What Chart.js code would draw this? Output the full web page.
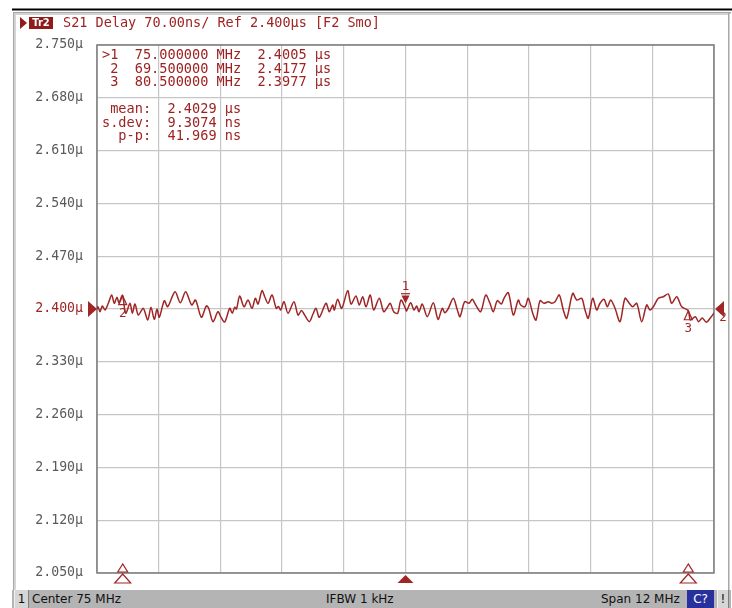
<!DOCTYPE html>
<html>
<head>
<meta charset="utf-8">
<script src="https://cdn.jsdelivr.net/npm/chart.js@4.4.1/dist/chart.umd.min.js"></script>
<style>
  html, body { margin: 0; padding: 0; background: #fff; }
  #wrap { position: relative; width: 732px; height: 608px; overflow: hidden; background: #fff; }
  #chart { position: absolute; left: 0; top: 0; }
  .mono { position: absolute; font-family: "DejaVu Sans Mono", monospace; color: #9e2222; white-space: pre; }
  #hdr { left: 63px; top: 14px; font-size: 13.5px; line-height: 16px; }
  #tr { position: absolute; left: 29px; top: 17px; width: 24px; height: 12px; background: #8e1c1c;
        color: #fff; font: bold 10px "DejaVu Sans", sans-serif; line-height: 12px; text-align: center; }
  #arrow { position: absolute; left: 20px; top: 17px; width: 0; height: 0;
           border-top: 6px solid transparent; border-bottom: 6px solid transparent; border-left: 7px solid #8e1c1c; }
  #mkr { left: 102px; top: 48px; font-size: 13.6px; line-height: 13.5px; }
  #stat { left: 102px; top: 102px; font-size: 13.6px; line-height: 13.7px; }
  #bar { position: absolute; left: 12px; top: 590px; width: 719px; height: 18px; background: #b4b4b4;
         font: 12px "DejaVu Sans", sans-serif; color: #111; }
  #bar span { position: absolute; top: 0; line-height: 18px; }
  .box { background: #d6d6d6; border-left: 1px solid #f0f0f0; border-right: 1px solid #808080; text-align: center; }
</style>
</head>
<body>
<div id="wrap">
  <canvas id="chart" width="732" height="608"></canvas>
  <div id="arrow"></div>
  <div id="tr">Tr2</div>
  <div id="hdr" class="mono"></div>
  <div id="mkr" class="mono"></div>
  <div id="stat" class="mono"></div>
  <div id="bar">
    <span class="box" style="left:2px;width:13px;">1</span>
    <span style="left:20px;">Center 75 MHz</span>
    <span style="left:314px;">IFBW 1 kHz</span>
    <span style="left:589px;">Span 12 MHz</span>
    <span style="left:675px;width:27px;background:#28309e;color:#fff;text-align:center;">C?</span>
    <span class="box" style="left:705px;width:10px;">!</span>
  </div>
</div>
<script>
// S21 group delay trace
const freqMHz = [
  69.000, 69.019, 69.058, 69.103, 69.156, 69.220, 69.286, 69.336, 69.389, 69.428,
  69.495, 69.558, 69.642, 69.687, 69.739, 69.803, 69.900, 69.986, 70.050, 70.114,
  70.167, 70.212, 70.309, 70.375, 70.517, 70.620, 70.725, 70.842, 70.916, 71.029,
  71.126, 71.172, 71.256, 71.353, 71.406, 71.484, 71.581, 71.631, 71.678, 71.713,
  71.775, 71.859, 71.937, 72.015, 72.079, 72.132, 72.209, 72.262, 72.326, 72.404,
  72.487, 72.530, 72.573, 72.637, 72.715, 72.831, 72.909, 72.977, 73.026, 73.129,
  73.201, 73.259, 73.324, 73.454, 73.518, 73.584, 73.615, 73.681, 73.759, 73.876,
  73.940, 74.037, 74.101, 74.168, 74.232, 74.315, 74.381, 74.490, 74.576, 74.654,
  74.704, 74.770, 74.848, 74.912, 75.000, 75.019, 75.101, 75.165, 75.218, 75.263,
  75.327, 75.424, 75.541, 75.632, 75.716, 75.763, 75.827, 75.930, 76.008, 76.060,
  76.151, 76.235, 76.299, 76.366, 76.463, 76.560, 76.643, 76.708, 76.785, 76.863,
  76.916, 76.999, 77.097, 77.194, 77.240, 77.324, 77.388, 77.474, 77.538, 77.616,
  77.694, 77.777, 77.843, 77.908, 77.991, 78.069, 78.135, 78.252, 78.330, 78.427,
  78.491, 78.555, 78.641, 78.719, 78.783, 78.861, 78.925, 78.991, 79.075, 79.172,
  79.269, 79.353, 79.419, 79.497, 79.594, 79.691, 79.755, 79.820, 79.917, 80.014,
  80.111, 80.177, 80.275, 80.372, 80.500, 80.539, 80.636, 80.700, 80.772, 80.850,
  80.928, 81.000
];
const delayUs = [
  2.3996, 2.4030, 2.3964, 2.4040, 2.3987, 2.4076, 2.4186, 2.4076, 2.4155, 2.4084,
  2.4180, 2.3943, 2.4076, 2.3943, 2.4066, 2.3920, 2.4009, 2.3854, 2.4023, 2.3863,
  2.3996, 2.3890, 2.4110, 2.4030, 2.4229, 2.4084, 2.4229, 2.4053, 2.4119, 2.3890,
  2.4040, 2.4009, 2.3832, 2.3964, 2.3898, 2.3828, 2.4009, 2.3943, 2.4023, 2.4000,
  2.4172, 2.4030, 2.4119, 2.4009, 2.4142, 2.4066, 2.4243, 2.4163, 2.4076, 2.4186,
  2.4009, 2.4033, 2.3987, 2.4097, 2.3943, 2.4097, 2.3920, 2.3980, 2.3934, 2.3832,
  2.3934, 2.4009, 2.3890, 2.4076, 2.3964, 2.4053, 2.3987, 2.4129, 2.4009, 2.4243,
  2.4066, 2.4172, 2.4053, 2.4163, 2.4030, 2.4186, 2.3987, 2.4142, 2.3964, 2.4030,
  2.4076, 2.3964, 2.3943, 2.4119, 2.4005, 2.3973, 2.4084, 2.3987, 2.4040, 2.3964,
  2.4066, 2.3898, 2.4084, 2.3863, 2.4009, 2.3951, 2.4000, 2.4142, 2.3987, 2.3898,
  2.4097, 2.4076, 2.4129, 2.4053, 2.3964, 2.4186, 2.4076, 2.3964, 2.4110, 2.4066,
  2.4142, 2.4216, 2.3920, 2.4119, 2.4053, 2.4030, 2.4142, 2.3943, 2.3854, 2.4110,
  2.4076, 2.4097, 2.4076, 2.4097, 2.4186, 2.3987, 2.3877, 2.4208, 2.4119, 2.4142,
  2.3987, 2.3877, 2.4142, 2.3987, 2.4076, 2.4129, 2.4030, 2.4119, 2.4009, 2.3832,
  2.4142, 2.4076, 2.4030, 2.4076, 2.3832, 2.4053, 2.3987, 2.4030, 2.4142, 2.4163,
  2.4199, 2.4076, 2.4163, 2.4030, 2.3977, 2.3854, 2.3898, 2.3832, 2.3881, 2.3825,
  2.3881, 2.3947
];

// markers
const markerNames = ['1', '2', '3'];
const markerFreq = [75.0, 69.5, 80.5];
const markerDelay = [2.4005, 2.4177, 2.3977];
const activeMarker = 0;

// axis
const delayTicks = [2.05, 2.12, 2.19, 2.26, 2.33, 2.40, 2.47, 2.54, 2.61, 2.68, 2.75];
const refLevel = 2.400;
const centerMHz = 75;
const spanMHz = 12;

// statistics
const statNames = ['mean:', 's.dev:', 'p-p:'];
const statValues = ['2.4029', '9.3074', '41.969'];
const statUnits = ['μs', 'ns', 'ns'];

const RED = '#a02626';
const GRID = '#c6c6c6';
const FRAME = '#7c7c7c';

document.getElementById('hdr').textContent = 'S21 Delay 70.00ns/ Ref 2.400μs [F2 Smo]';
document.getElementById('mkr').textContent = markerNames.map((n, i) =>
  (i === activeMarker ? '>' : ' ') + n + '  ' + markerFreq[i].toFixed(6).padStart(9) + ' MHz  ' +
  markerDelay[i].toFixed(4) + ' μs').join('\n');
document.getElementById('stat').textContent = statNames.map((n, i) =>
  n.padStart(6) + '  ' + statValues[i] + ' ' + statUnits[i]).join('\n');

function tri(ctx, pts, fill) {
  ctx.beginPath();
  ctx.moveTo(pts[0], pts[1]);
  ctx.lineTo(pts[2], pts[3]);
  ctx.lineTo(pts[4], pts[5]);
  ctx.closePath();
  if (fill) ctx.fill(); else ctx.stroke();
}

// frame around the screen and the plot box
const framePlugin = {
  id: 'frame',
  beforeDraw(chart) {
    const ctx = chart.ctx;
    ctx.save();
    ctx.fillStyle = '#fff';
    ctx.fillRect(0, 0, 732, 608);
    ctx.fillStyle = '#000';
    ctx.fillRect(12, 8.5, 720, 2);
    ctx.fillStyle = '#a8a8a8';
    ctx.fillRect(13, 12, 718, 1.5);
    ctx.fillRect(13, 12, 1.5, 578);
    ctx.fillRect(728, 12, 1.5, 578);
    ctx.fillStyle = '#d4d4d4';
    ctx.fillRect(14.5, 13.5, 713.5, 1.5);
    ctx.fillRect(14.5, 13.5, 1.5, 576);
    ctx.restore();
  },
  beforeDatasetsDraw(chart) {
    const { ctx, chartArea: a } = chart;
    ctx.save();
    ctx.strokeStyle = FRAME;
    ctx.lineWidth = 1.5;
    ctx.strokeRect(a.left, a.top, a.right - a.left, a.bottom - a.top);
    ctx.restore();
  }
};

// marker symbols and reference level arrows
const markerPlugin = {
  id: 'markers',
  afterDatasetsDraw(chart) {
    const { ctx, chartArea: a, scales: { x, y } } = chart;
    ctx.save();
    ctx.fillStyle = RED;
    ctx.strokeStyle = RED;
    ctx.lineWidth = 1.2;
    ctx.font = '12.5px "DejaVu Sans Mono", monospace';
    ctx.textAlign = 'center';
    ctx.textBaseline = 'middle';

    const yr = y.getPixelForValue(refLevel);
    tri(ctx, [a.left - 9, yr - 8, a.left, yr, a.left - 9, yr + 8], true);
    tri(ctx, [a.right + 1, yr, a.right + 10, yr - 8, a.right + 10, yr + 8], true);
    ctx.fillText('2', a.right + 9, yr + 9);

    markerFreq.forEach((f, i) => {
      const px = x.getPixelForValue(f);
      const py = y.getPixelForValue(markerDelay[i]);
      if (i === activeMarker) {
        tri(ctx, [px - 4, py - 13, px + 4, py - 13, px, py - 5], true);
        ctx.fillRect(px - 4.5, py - 15.5, 9, 1.2);
        ctx.fillText(markerNames[i], px, py - 22);
        tri(ctx, [px - 8, a.bottom + 10, px + 8, a.bottom + 10, px, a.bottom + 2], true);
      } else {
        tri(ctx, [px, py, px - 4, py + 9, px + 4, py + 9], false);
        ctx.fillText(markerNames[i], px, py + 18);
        tri(ctx, [px, a.bottom - 9, px - 5, a.bottom - 1, px + 5, a.bottom - 1], false);
        tri(ctx, [px, a.bottom + 1, px - 8, a.bottom + 10, px + 8, a.bottom + 10], false);
      }
    });
    ctx.restore();
  }
};

new Chart(document.getElementById('chart'), {
  type: 'line',
  data: {
    datasets: [{
      data: freqMHz.map((f, i) => ({ x: f, y: delayUs[i] })),
      borderColor: RED,
      borderWidth: 1.5,
      pointRadius: 0,
      tension: 0.3,
      fill: false
    }]
  },
  options: {
    responsive: false,
    animation: false,
    events: [],
    layout: { padding: { top: 45, right: 18, bottom: 35, left: 0 } },
    plugins: {
      legend: { display: false },
      tooltip: { enabled: false }
    },
    scales: {
      x: {
        type: 'linear',
        min: centerMHz - spanMHz / 2,
        max: centerMHz + spanMHz / 2,
        ticks: { display: false, stepSize: spanMHz / 10 },
        grid: { color: GRID, lineWidth: 1.2, drawTicks: false },
        border: { display: false },
        afterFit(s) { s.height = 0; }
      },
      y: {
        min: 2.05,
        max: 2.75,
        afterBuildTicks(axis) { axis.ticks = delayTicks.map(v => ({ value: v })); },
        afterFit(s) { s.width = 97; },
        ticks: {
          padding: 14,
          font: { family: '"DejaVu Sans Mono", monospace', size: 13.2 },
          color: c => Math.abs(c.tick.value - refLevel) < 1e-6 ? RED : '#5a5a5a',
          callback: v => v.toFixed(3) + 'μ'
        },
        grid: { color: GRID, lineWidth: 1.2, drawTicks: false },
        border: { display: false }
      }
    }
  },
  plugins: [framePlugin, markerPlugin]
});
</script>
</body>
</html>
